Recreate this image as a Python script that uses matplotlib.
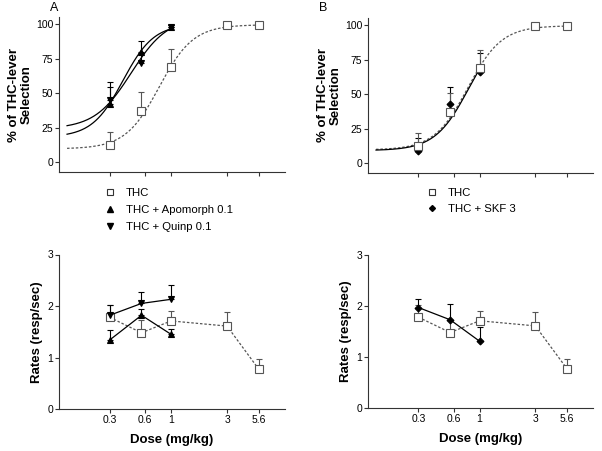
import numpy as np
import matplotlib
matplotlib.use("Agg")
import matplotlib.pyplot as plt
from matplotlib.lines import Line2D

plt.rcParams['font.family'] = ['Liberation Sans', 'DejaVu Sans']

# ---------------- data ----------------
doses_thc = [0.3, 0.56, 1, 3, 5.6]
doses_combo = [0.3, 0.56, 1]
tick_pos = [0.3, 0.6, 1, 3, 5.6]
tick_labels = ['0.3', '0.6', '1', '3', '5.6']

thc_sel = [12, 37, 69, 99, 99]
thc_sel_err = [10, 14, 13, 0, 0]
apo_sel = [42, 80, 98]
apo_sel_err = [12, 8, 1]
quinp_sel = [45, 72, 98]
quinp_sel_err = [13, 7, 1]
skf_sel = [9, 43, 66]
skf_sel_err = [9, 12, 14]

thc_rate = [1.78, 1.48, 1.71, 1.61, 0.77]
thc_rate_err = [0.24, 0.25, 0.19, 0.27, 0.20]
apo_rate = [1.34, 1.82, 1.45]
apo_rate_err = [0.19, 0.12, 0.10]
quinp_rate = [1.82, 2.05, 2.13]
quinp_rate_err = [0.20, 0.22, 0.28]
skf_rate = [1.97, 1.73, 1.31]
skf_rate_err = [0.16, 0.31, 0.27]

# fitted sigmoid parameters: bottom, top, logEC50, hill
fit_thc = [9.5, 99.5, -0.10, 3.0]
fit_apo = [18, 100, -0.41, 3.3]
fit_quinp = [24, 105, -0.34, 2.8]
fit_skf = [9, 100, -0.09, 3.0]
fit_start = 0.13


def sigmoid(x, p):
    b, t, c, h = p
    return b + (t - b) / (1 + 10 ** ((c - np.log10(x)) * h))


GREY = '#555555'
W, H = 602, 451
fig = plt.figure(figsize=(W / 100, H / 100), dpi=100)


def ax_px(l, r, t, b):
    return fig.add_axes([l / W, (H - b) / H, (r - l) / W, (b - t) / H])


axA = ax_px(59, 285, 17, 172)
axB = ax_px(368, 593, 18, 173)
axC = ax_px(59, 285, 254.5, 409)
axD = ax_px(368, 593, 255, 408)

for ax in (axA, axB, axC, axD):
    ax.set_xscale('log')
    ax.set_xlim(0.111, 9.35)
    ax.spines['top'].set_visible(False)
    ax.spines['right'].set_visible(False)
    for s in ('left', 'bottom'):
        ax.spines[s].set_color('#333333')
        ax.spines[s].set_linewidth(0.8)
    ax.minorticks_off()
    ax.set_xticks(tick_pos)
    ax.tick_params(axis='both', direction='out', length=2.6, width=0.8,
                   color='#333333', labelsize=7.5, pad=1.5)
    ax.minorticks_off()

for ax in (axA, axB):
    ax.set_xticklabels([])
    ax.set_ylim(-7.25, 105.1)
    ax.set_yticks([0, 25, 50, 75, 100])
    ax.set_ylabel('% of THC-lever\nSelection', fontsize=9.5, fontweight='bold',
                  linespacing=1.0, labelpad=2.5)

for ax in (axC, axD):
    ax.set_xticklabels(tick_labels)
    ax.set_ylim(0, 3)
    ax.set_yticks([0, 1, 2, 3])
    ax.set_ylabel('Rates (resp/sec)', fontsize=9.5, fontweight='bold', labelpad=3)
    ax.set_xlabel('Dose (mg/kg)', fontsize=9.5, fontweight='bold', labelpad=7)


def series(ax, x, y, err, marker, ms, color, ls, mfc, dashes=None):
    zeros = [0] * len(err)
    ax.errorbar(x, y, yerr=[zeros, err], fmt='none', ecolor=color,
                elinewidth=0.8, capsize=2.5, capthick=0.8, zorder=2)
    kw = dict(linestyle=ls, color=color, lw=0.9, marker=marker, ms=ms,
              mfc=mfc, mec=color, mew=0.8, zorder=3)
    if dashes is not None:
        kw['dashes'] = dashes
    ax.plot(x, y, **kw)


def marks(ax, x, y, err, marker, ms, color, mfc):
    zeros = [0] * len(err)
    ax.errorbar(x, y, yerr=[zeros, err], fmt='none', ecolor=color,
                elinewidth=0.8, capsize=2.5, capthick=0.8, zorder=2)
    ax.plot(x, y, linestyle='none', marker=marker, ms=ms, mfc=mfc,
            mec=color, mew=0.8, zorder=4)


def curve(ax, xend, p, color, dashes=None):
    xs = np.logspace(np.log10(fit_start), np.log10(xend), 200)
    kw = dict(color=color, lw=0.9, zorder=1)
    if dashes is not None:
        kw['dashes'] = dashes
    ax.plot(xs, sigmoid(xs, p), **kw)


DOT = (2, 1.5)

# Panel A top
curve(axA, 5.6, fit_thc, GREY, DOT)
curve(axA, 1, fit_apo, 'black')
curve(axA, 1, fit_quinp, 'black')
marks(axA, doses_thc, thc_sel, thc_sel_err, 's', 5.5, GREY, 'white')
marks(axA, doses_combo, apo_sel, apo_sel_err, '^', 4.5, 'black', 'black')
marks(axA, doses_combo, quinp_sel, quinp_sel_err, 'v', 4.5, 'black', 'black')

# Panel B top
curve(axB, 5.6, fit_thc, GREY, DOT)
curve(axB, 1, fit_skf, 'black')
marks(axB, doses_combo, skf_sel, skf_sel_err, 'D', 3.5, 'black', 'black')
marks(axB, doses_thc, thc_sel, thc_sel_err, 's', 5.5, GREY, 'white')

# Panel A bottom
series(axC, doses_thc, thc_rate, thc_rate_err, 's', 5.5, GREY, '-', 'white', DOT)
series(axC, doses_combo, apo_rate, apo_rate_err, '^', 4.5, 'black', '-', 'black')
series(axC, doses_combo, quinp_rate, quinp_rate_err, 'v', 4.5, 'black', '-', 'black')

# Panel B bottom
series(axD, doses_thc, thc_rate, thc_rate_err, 's', 5.5, GREY, '-', 'white', DOT)
series(axD, doses_combo, skf_rate, skf_rate_err, 'D', 3.5, 'black', '-', 'black')

# legends
hA = [Line2D([], [], ls='none', marker='s', ms=4, mfc='white', mec='#333333', mew=0.8),
      Line2D([], [], ls='none', marker='^', ms=4, mfc='black', mec='black'),
      Line2D([], [], ls='none', marker='v', ms=4, mfc='black', mec='black')]
fig.legend(hA, ['THC', 'THC + Apomorph 0.1', 'THC + Quinp 0.1'],
           loc='upper left', bbox_to_anchor=(104 / W, 1 - 188 / H),
           frameon=False, fontsize=8.2, handlelength=1.0, handletextpad=0.9,
           labelspacing=0.62, borderpad=0, borderaxespad=0)
hB = [Line2D([], [], ls='none', marker='s', ms=4, mfc='white', mec='#333333', mew=0.8),
      Line2D([], [], ls='none', marker='D', ms=3, mfc='black', mec='black')]
fig.legend(hB, ['THC', 'THC + SKF 3'],
           loc='upper left', bbox_to_anchor=(426 / W, 1 - 188 / H),
           frameon=False, fontsize=8.2, handlelength=1.0, handletextpad=0.9,
           labelspacing=0.55, borderpad=0, borderaxespad=0)

fig.text(50 / W, 1 - 8 / H, 'A', fontsize=9, va='center', ha='left')
fig.text(319 / W, 1 - 8 / H, 'B', fontsize=9, va='center', ha='left')

fig.savefig('out.png', dpi=100)
